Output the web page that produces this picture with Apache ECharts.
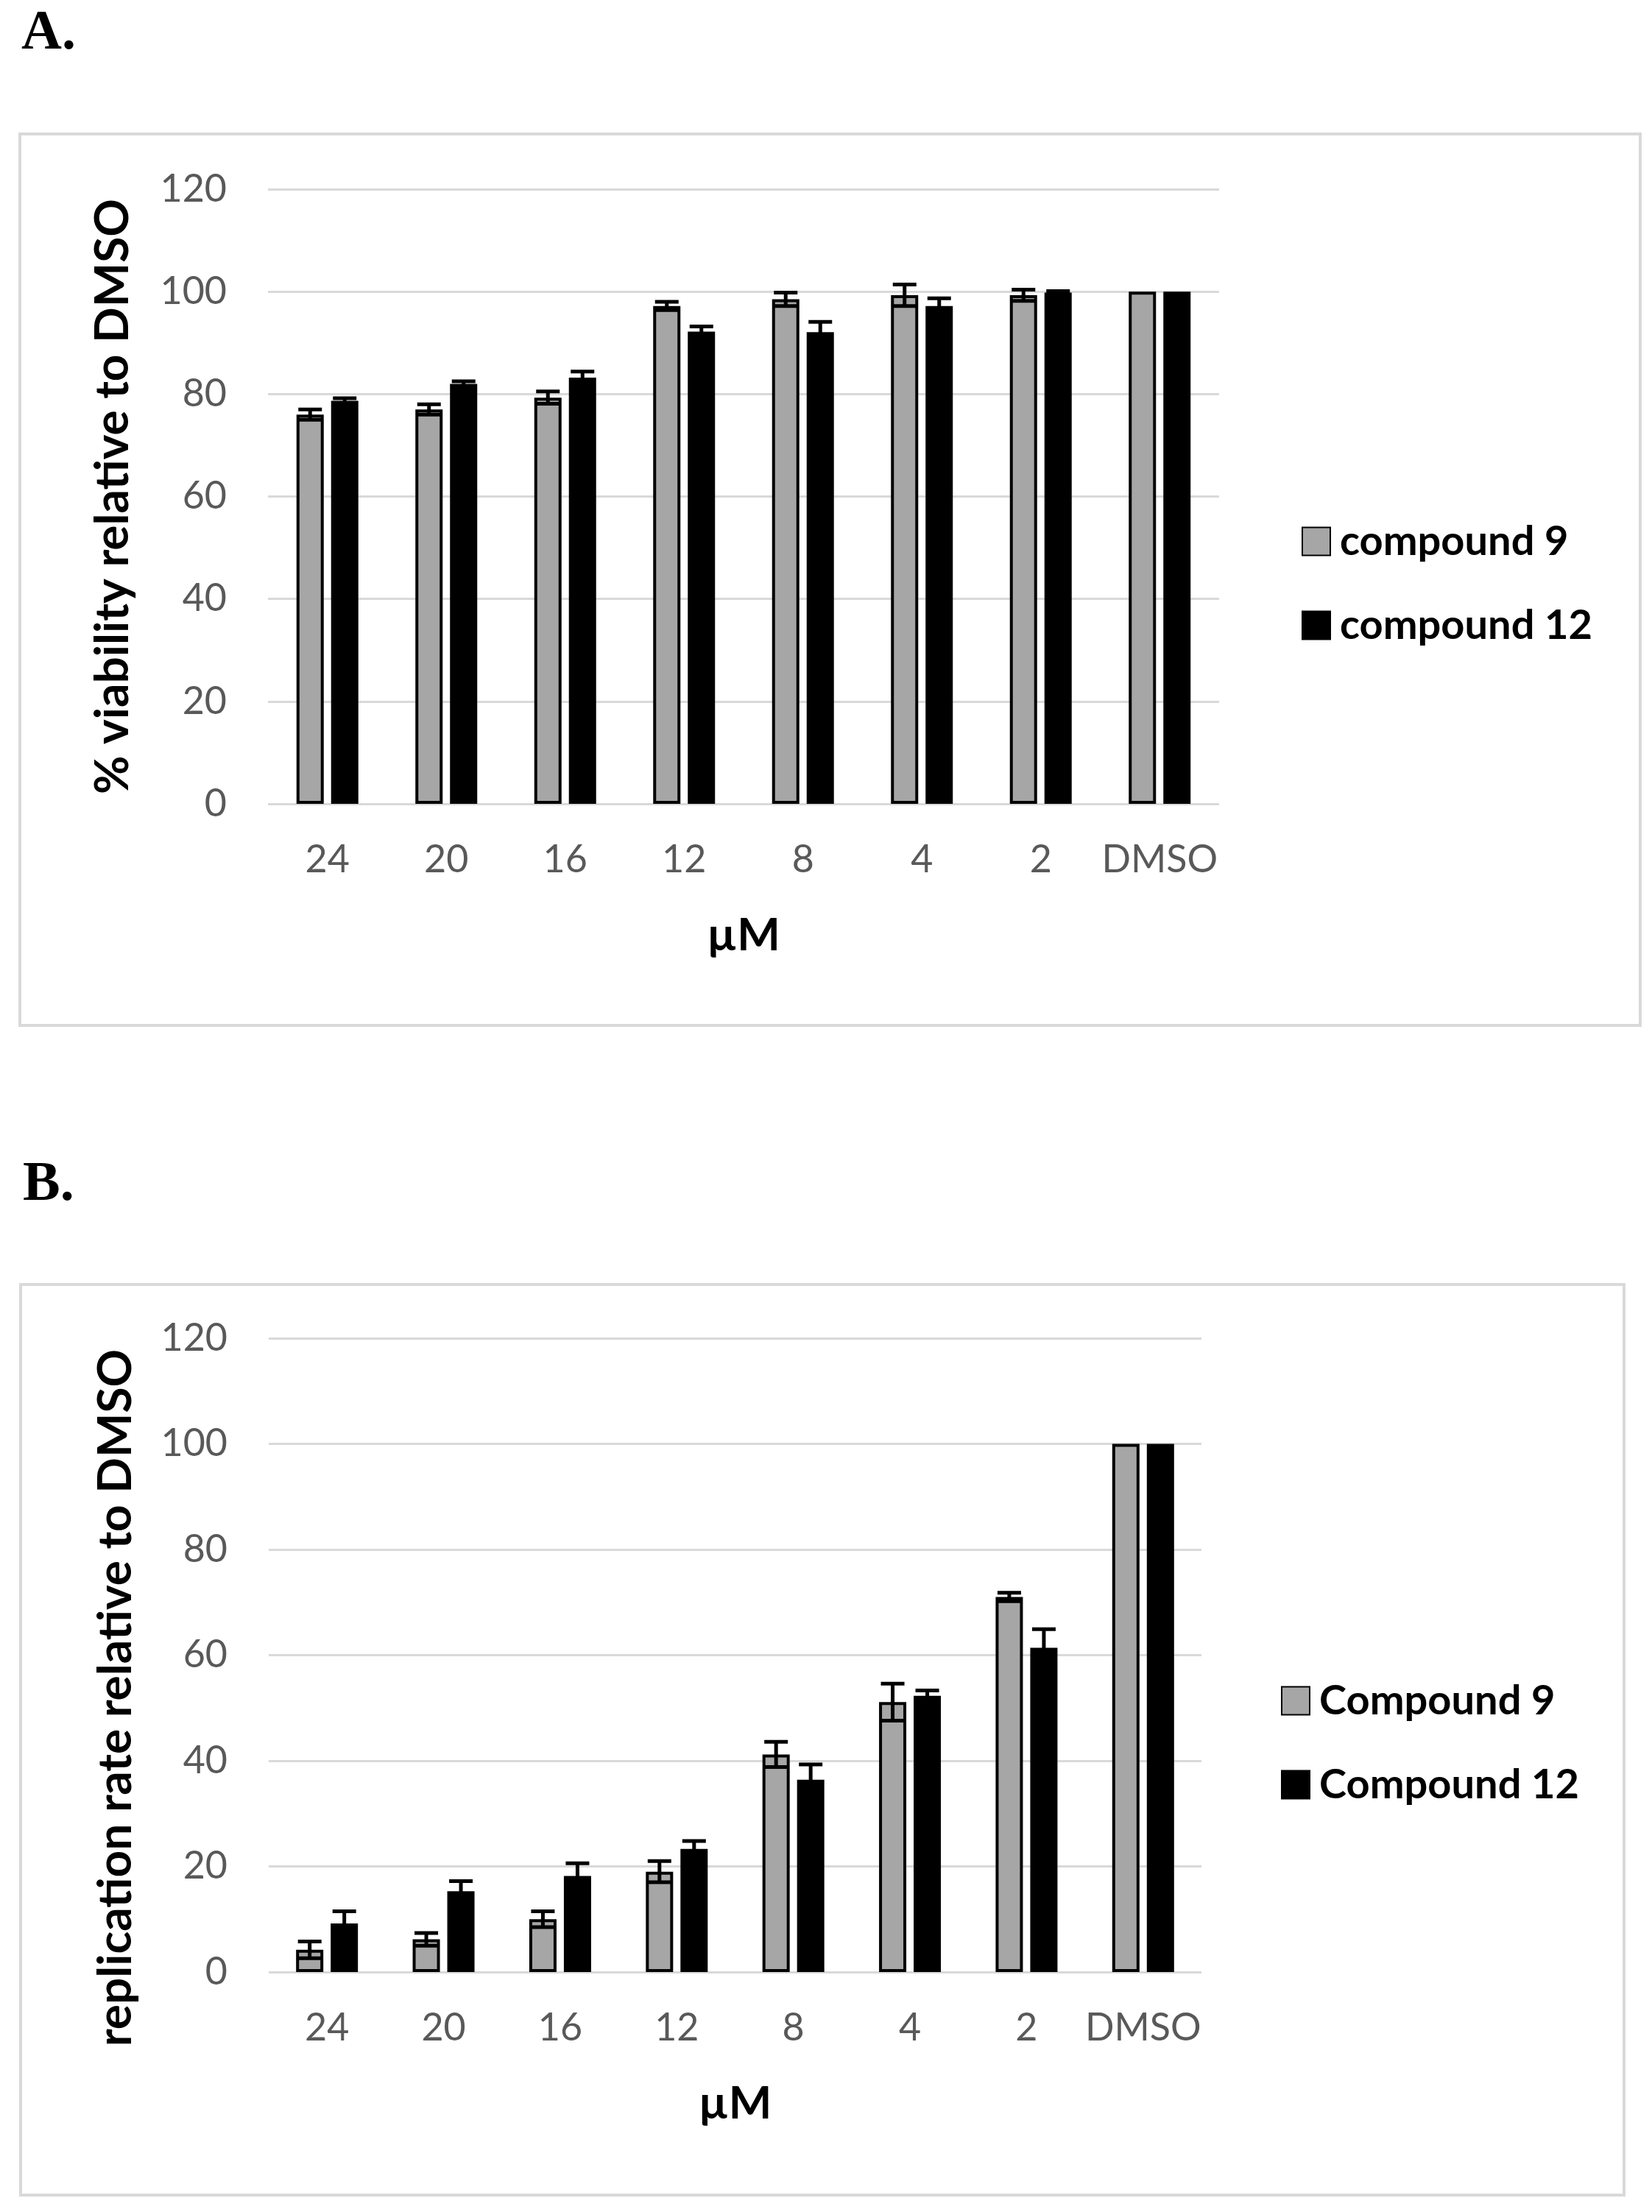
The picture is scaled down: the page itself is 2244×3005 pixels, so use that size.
<!DOCTYPE html>
<html>
<head>
<meta charset="utf-8">
<script src="https://cdn.jsdelivr.net/npm/echarts@6/dist/echarts.min.js"></script>
<style>
  html, body { margin: 0; padding: 0; background: #fff; }
  #chart { width: 2244px; height: 3005px; }
</style>
</head>
<body>
<div id="chart"></div>
<script>
// concentrations on the x axis (same for both panels)
var doses = ['24', '20', '16', '12', '8', '4', '2', 'DMSO']
var yTicks = [0, 20, 40, 60, 80, 100, 120]

// panel A: % viability relative to DMSO
var viab9 = [76, 77, 79.3, 97.2, 98.5, 99.3, 99.3, 100]
var viab9Err = [1, 1, 1.2, 0.8, 1.3, 2.1, 1.1, 0]
var viab12 = [78.7, 82, 83.2, 92.2, 92.1, 97.2, 99.8, 100]
var viab12Err = [0.5, 0.5, 1.2, 1, 2, 1.5, 0.3, 0]

// panel B: replication rate relative to DMSO
var repl9 = [4.2, 6.2, 10, 19, 41.2, 51.1, 71, 100]
var repl9Err = [1.6, 1.2, 1.5, 2, 2.4, 3.5, 0.8, 0]
var repl12 = [9.2, 15.3, 18.2, 23.3, 36.4, 52.3, 61.4, 100]
var repl12Err = [2.3, 1.9, 2.4, 1.5, 2.9, 1, 3.5, 0]

var GRAY = '#a6a6a6'
var GRID = '#d9d9d9'
var TICK = '#595959'
var FONT = 'Lato'

function xAx(idx) {
    return {
        type: 'category', gridIndex: idx, data: doses,
        axisLine: { show: false }, axisTick: { show: false },
        axisLabel: { color: TICK, fontSize: 52, fontFamily: FONT, margin: 50, interval: 0 },
        name: 'µM', nameLocation: 'middle', nameGap: 148,
        nameTextStyle: { color: '#000', fontSize: 62, fontWeight: 'bold', fontFamily: FONT }
    }
}

function yAx(idx, title, gap, shift) {
    return {
        type: 'value', gridIndex: idx, min: yTicks[0], max: yTicks[yTicks.length - 1], interval: 20,
        axisLine: { show: false }, axisTick: { show: false },
        splitLine: { lineStyle: { color: GRID, width: 3 } },
        axisLabel: { color: TICK, fontSize: 52, fontFamily: FONT, margin: 56 },
        name: title, nameLocation: 'middle', nameRotate: 90, nameGap: gap,
        nameTextStyle: { color: '#000', fontSize: 64, fontWeight: 'bold', fontFamily: FONT,
            padding: [0, shift, 0, 0] }
    }
}

function barSeries(name, idx, vals, color) {
    return {
        name: name, type: 'bar', xAxisIndex: idx, yAxisIndex: idx,
        data: vals, barWidth: 37, barGap: '27%',
        itemStyle: { color: color, borderColor: '#000', borderWidth: 4 },
        emphasis: { disabled: true }
    }
}

// error bars drawn with the axis scale, offset to the bar centre
function errSeries(idx, vals, errs, offset) {
    return {
        type: 'custom', xAxisIndex: idx, yAxisIndex: idx, z: 10, silent: true,
        encode: { x: 0, y: 1 },
        data: vals.map(function (v, i) { return [i, v, errs[i]] }),
        renderItem: function (params, api) {
            var e = api.value(2)
            if (!e) return
            var lo = api.coord([api.value(0), api.value(1) - e])
            var hi = api.coord([api.value(0), api.value(1) + e])
            var x = lo[0] + offset
            var cap = 16
            var st = { stroke: '#000', lineWidth: 5 }
            return {
                type: 'group',
                children: [
                    { type: 'line', shape: { x1: x, y1: lo[1], x2: x, y2: hi[1] }, style: st },
                    { type: 'line', shape: { x1: x - cap, y1: hi[1], x2: x + cap, y2: hi[1] }, style: st },
                    { type: 'line', shape: { x1: x - cap, y1: lo[1], x2: x + cap, y2: lo[1] }, style: st }
                ]
            }
        }
    }
}

function legendAt(left, top, names) {
    return {
        orient: 'vertical', left: left, top: top, data: names,
        icon: 'rect', itemWidth: 38, itemHeight: 38, itemGap: 57,
        selectedMode: false,
        textStyle: { color: '#000', fontSize: 56, fontWeight: 'bold', fontFamily: FONT,
            lineHeight: 57, padding: [0, 0, 0, 8] }
    }
}

var option = {
    backgroundColor: '#fff',
    animation: false,
    grid: [
        { left: 364, right: 588, top: 257, bottom: 3005 - 1092 },
        { left: 365, right: 612, top: 1818, bottom: 3005 - 2679 }
    ],
    xAxis: [xAx(0), xAx(1)],
    yAxis: [
        yAx(0, '% viability relative to DMSO', 179, 0),
        yAx(1, 'replication rate relative to DMSO', 176, 116)
    ],
    legend: [
        legendAt(1763, 702, ['compound 9', 'compound 12']),
        legendAt(1735, 2277, ['Compound 9', 'Compound 12'])
    ],
    graphic: [
        { type: 'rect', shape: { x: 27, y: 182, width: 2201, height: 1211 },
            style: { fill: 'none', stroke: GRID, lineWidth: 4 }, silent: true },
        { type: 'rect', shape: { x: 28, y: 1745, width: 2178, height: 1237 },
            style: { fill: 'none', stroke: GRID, lineWidth: 4 }, silent: true },
        { type: 'text', left: 29, top: 8,
            style: { text: 'A.', fill: '#000', font: 'bold 76px "Liberation Serif"' } },
        { type: 'text', left: 31, top: 1572,
            style: { text: 'B.', fill: '#000', font: 'bold 76px "Liberation Serif"' } }
    ],
    series: [
        barSeries('compound 9', 0, viab9, GRAY),
        barSeries('compound 12', 0, viab12, '#000'),
        errSeries(0, viab9, viab9Err, -23.5),
        errSeries(0, viab12, viab12Err, 23.5),
        barSeries('Compound 9', 1, repl9, GRAY),
        barSeries('Compound 12', 1, repl12, '#000'),
        errSeries(1, repl9, repl9Err, -23.5),
        errSeries(1, repl12, repl12Err, 23.5)
    ]
}

var myChart = echarts.init(document.getElementById('chart'))
myChart.setOption(option)
</script>
</body>
</html>
